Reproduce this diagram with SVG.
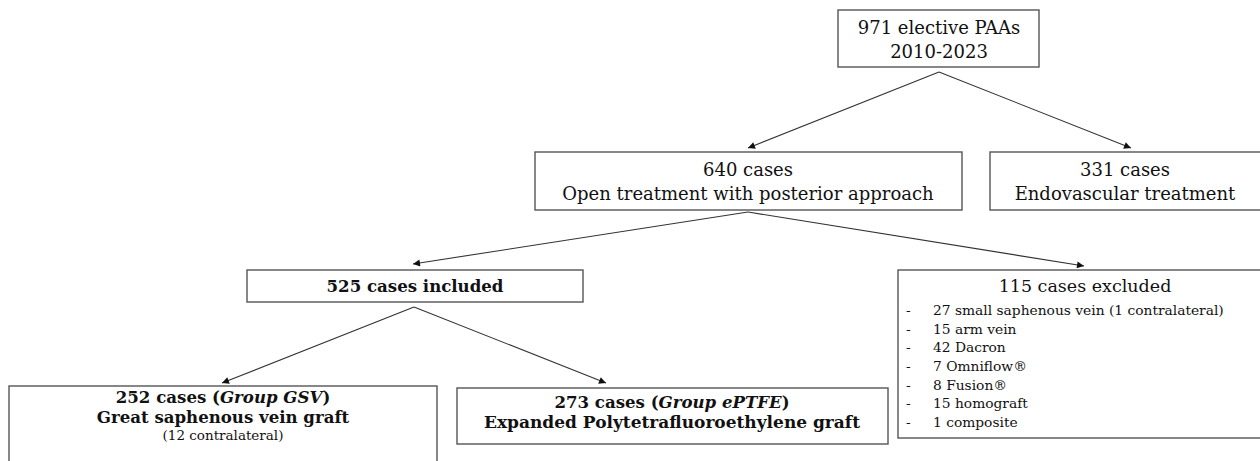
<svg xmlns="http://www.w3.org/2000/svg" width="1260" height="461" viewBox="0 0 1260 461" font-family="'DejaVu Serif', serif">
<defs>
<marker id="ah" viewBox="0 0 10 10" refX="10" refY="5" markerWidth="9" markerHeight="7" markerUnits="userSpaceOnUse" orient="auto">
<path d="M0,0 L10,5 L0,10 z" fill="#111"/>
</marker>
<style>
.box{fill:#fff;stroke:#555;stroke-width:1.4}
text{font-family:'DejaVu Serif',serif;fill:#111}
.t{font-size:18px;text-anchor:middle}
.h{font-size:17.5px}
.b{font-weight:bold;font-size:16.6px}
.s{font-size:13.8px}
.sm{font-size:13.5px}
.c{fill:none;stroke:#333;stroke-width:1.1;marker-end:url(#ah)}
</style>
</defs>
<rect width="1260" height="461" fill="#fff"/>
<g id="connectors">
<path class="c" d="M939,72 L748,148"/>
<path class="c" d="M939,72 L1131,148"/>
<path class="c" d="M748,212 L413,264"/>
<path class="c" d="M748,212 L1084,266"/>
<path class="c" d="M414,307 L222,383"/>
<path class="c" d="M414,307 L606,383"/>
</g>
<g id="n971">
<rect class="box" x="838" y="10" width="201" height="57"/>
<text class="t" x="939" y="34">971 elective PAAs</text>
<text class="t" x="939" y="58">2010-2023</text>
</g>
<g id="n640">
<rect class="box" x="535" y="152" width="427" height="58"/>
<text class="t" x="748" y="176">640 cases</text>
<text class="t" x="748" y="200">Open treatment with posterior approach</text>
</g>
<g id="n331">
<rect class="box" x="990" y="152" width="280" height="58"/>
<text class="t" x="1125" y="176">331 cases</text>
<text class="t" x="1125" y="200">Endovascular treatment</text>
</g>
<g id="n525">
<rect class="box" x="247" y="270" width="336" height="32"/>
<text class="t b" x="415" y="292">525 cases included</text>
</g>
<g id="n115">
<rect class="box" x="898" y="270" width="372" height="168"/>
<text class="t h" x="1085" y="292">115 cases excluded</text>
<text class="s" x="906" y="315">-</text><text class="s" x="933" y="315">27 small saphenous vein (1 contralateral)</text>
<text class="s" x="906" y="334">-</text><text class="s" x="933" y="334">15 arm vein</text>
<text class="s" x="906" y="352">-</text><text class="s" x="933" y="352">42 Dacron</text>
<text class="s" x="906" y="371">-</text><text class="s" x="933" y="371">7 Omniflow®</text>
<text class="s" x="906" y="390">-</text><text class="s" x="933" y="390">8 Fusion®</text>
<text class="s" x="906" y="408">-</text><text class="s" x="933" y="408">15 homograft</text>
<text class="s" x="906" y="427">-</text><text class="s" x="933" y="427">1 composite</text>
</g>
<g id="nGSV">
<rect class="box" x="9" y="386" width="428" height="90"/>
<text class="t b" x="223" y="403">252 cases (<tspan font-style="italic">Group GSV</tspan>)</text>
<text class="t b" x="223" y="423">Great saphenous vein graft</text>
<text class="t sm" x="223" y="440">(12 contralateral)</text>
</g>
<g id="nePTFE">
<rect class="box" x="457" y="388" width="431" height="56"/>
<text class="t b" x="672" y="408">273 cases (<tspan font-style="italic">Group ePTFE</tspan>)</text>
<text class="t b" x="672" y="428" style="font-size:17px">Expanded Polytetrafluoroethylene graft</text>
</g>
</svg>
